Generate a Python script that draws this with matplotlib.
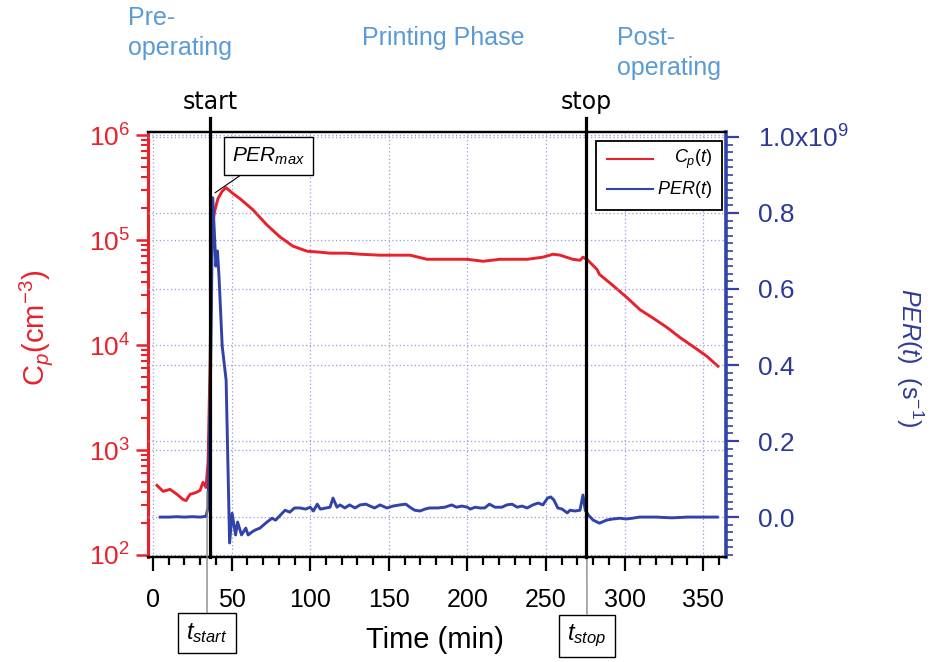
import matplotlib
matplotlib.use('Agg')
import matplotlib.pyplot as plt
from matplotlib.ticker import MultipleLocator, FixedLocator, FixedFormatter, LogLocator, NullFormatter
from matplotlib.patches import Rectangle
from matplotlib.lines import Line2D

plt.rcParams['font.family'] = ['Liberation Sans', 'DejaVu Sans']
plt.rcParams['mathtext.fontset'] = 'custom'
plt.rcParams['mathtext.rm'] = 'Liberation Sans'
plt.rcParams['mathtext.it'] = 'Liberation Sans:italic'
plt.rcParams['mathtext.bf'] = 'Liberation Sans:bold'

# ---------------- data ----------------
cp_time = [2.5, 6.4, 10.8, 15.3, 19.1, 21.0, 23.5, 27.4, 29.9, 31.8,
           33.7, 35.0, 36.3, 36.9, 37.5, 39.4, 41.3, 43.9, 46.4, 50.9,
           55.3, 63.6, 72.5, 80.8, 89.0, 98.0, 106.0, 112.6, 123.4, 131.7,
           144.4, 157.0, 163.5, 174.3, 182.6, 199.7, 210.0, 220.7, 238.0, 248.0,
           254.5, 259.0, 267.0, 271.6, 273.5, 276.0, 282.4, 284.0, 292.6, 301.5,
           309.8, 318.0, 327.0, 335.2, 343.5, 352.4, 359.4]
cp_values = [460, 404, 422, 378, 338, 330, 378, 394, 412, 492,
             440, 767, 7000, 30000, 133000, 194000, 248000, 290000, 316000, 277000,
             248000, 194000, 139000, 107000, 87500, 78300, 76700, 75000, 75000, 73300,
             71800, 71800, 71800, 65600, 65600, 65600, 62800, 65600, 65600, 68700,
             73300, 71800, 65600, 64200, 68700, 65600, 52600, 47100, 36900, 28300,
             21700, 18100, 14700, 11800, 9700, 7800, 6280]

per_time = [4.5, 10, 15, 20, 25, 30, 33.7, 35.0, 36.5, 38.0,
            40.0, 41.0, 42.0, 44.0, 46.5, 48.7, 50.3, 52.5, 53.8, 56.3,
            59.0, 60.5, 63.0, 65.0, 68.0, 72.5, 75.7, 78.0, 81.0, 84.0,
            87.0, 90.0, 93.5, 97.0, 100.0, 102.0, 104.5, 106.4, 112.6, 114.5,
            117.0, 119.0, 122.0, 125.0, 128.5, 131.7, 135.5, 138.0, 141.0, 144.4,
            148.8, 152.7, 157.0, 160.8, 163.4, 166.5, 169.8, 173.0, 176.0, 181.0,
            185.7, 190.0, 193.0, 196.5, 200.0, 201.7, 205.0, 208.0, 211.0, 214.0,
            217.5, 222.0, 225.0, 228.4, 231.6, 234.7, 238.0, 241.6, 245.0, 248.0,
            251.0, 253.0, 255.0, 257.5, 260.3, 263.5, 265.3, 268.5, 271.6, 273.5,
            275.0, 277.0, 280.0, 284.0, 288.5, 292.5, 297.0, 301.0, 305.0, 309.5,
            320.0, 330.0, 340.0, 350.0, 359.0]
# PER in units of 1e9 s^-1
per_values_e9 = [0.0, 0.0, 0.001, 0.0, 0.001, 0.0, 0.002, 0.026, 0.35, 0.84,
                 0.66, 0.70, 0.63, 0.45, 0.36, -0.068, 0.010, -0.047, -0.013, -0.047,
                 -0.029, -0.047, -0.039, -0.034, -0.029, -0.013, -0.003, -0.008, 0.005, 0.018,
                 0.013, 0.024, 0.024, 0.021, 0.026, 0.016, 0.034, 0.021, 0.026, 0.050,
                 0.026, 0.032, 0.024, 0.032, 0.024, 0.032, 0.034, 0.029, 0.024, 0.032,
                 0.024, 0.029, 0.032, 0.034, 0.026, 0.018, 0.016, 0.021, 0.024, 0.024,
                 0.026, 0.032, 0.026, 0.029, 0.026, 0.021, 0.026, 0.024, 0.024, 0.034,
                 0.026, 0.026, 0.032, 0.034, 0.026, 0.029, 0.024, 0.032, 0.037, 0.032,
                 0.050, 0.053, 0.045, 0.024, 0.021, 0.011, 0.018, 0.016, 0.018, 0.058,
                 0.018, 0.005, -0.008, -0.016, -0.008, -0.005, -0.003, -0.005, -0.003, 0.0,
                 0.0, -0.002, 0.0, 0.0, 0.0]

x_ticks = [0, 50, 100, 150, 200, 250, 300, 350]
x_tick_labels = ['0', '50', '100', '150', '200', '250', '300', '350']
left_ticks = [1e2, 1e3, 1e4, 1e5, 1e6]
left_tick_labels = ['$10^{2}$', '$10^{3}$', '$10^{4}$', '$10^{5}$', '$10^{6}$']
right_ticks = [0.0, 0.2, 0.4, 0.6, 0.8, 1.0]
right_tick_labels = ['0.0', '0.2', '0.4', '0.6', '0.8', '1.0x10$^{9}$']

t_start = 36.3
t_stop = 275.4
t_start_marker = 34.4
t_stop_marker = 276.0
per_max_point = (39.4, 0.853)

# ---------------- style ----------------
RED = '#E8212B'
BLUE_TXT = '#2E3A97'
BLUE_LINE = '#3143A8'
PHASE = '#5B9BD5'
GRID = '#9A9AD8'

W, H = 936, 662
fig = plt.figure(figsize=(W / 100, H / 100), dpi=100)


def fx(px):
    return px / W


def fy(py):
    return 1 - py / H


L, R, T, B = 148, 726, 132, 557
ax = fig.add_axes([fx(L), fy(B), fx(R) - fx(L), fy(T) - fy(B)])
ax2 = ax.twinx()

# curves
ax.plot(cp_time, cp_values, color=RED, lw=2.1, zorder=3)
ax2.plot(per_time, per_values_e9, color=BLUE_LINE, lw=2.1, zorder=3)

ax.set_yscale('log')
ax.set_xlim(-3.2, 364.5)
ax.set_ylim(95.7, 1.07e6)
ax2.set_ylim(-0.105, 1.013)

# ticks / grids
ax.xaxis.set_major_locator(FixedLocator(x_ticks))
ax.xaxis.set_major_formatter(FixedFormatter(x_tick_labels))
ax.xaxis.set_minor_locator(MultipleLocator(10))
ax.yaxis.set_major_locator(FixedLocator(left_ticks))
ax.yaxis.set_major_formatter(FixedFormatter(left_tick_labels))
ax.yaxis.set_minor_locator(LogLocator(base=10, subs=range(2, 10), numticks=20))
ax.yaxis.set_minor_formatter(NullFormatter())
ax2.yaxis.set_major_locator(FixedLocator(right_ticks))
ax2.yaxis.set_major_formatter(FixedFormatter(right_tick_labels))
ax2.yaxis.set_minor_locator(MultipleLocator(0.02))

gkw = dict(color=GRID, lw=0.9, linestyle=(0, (1, 2)))
ax.grid(True, which='major', axis='both', **gkw)
ax2.grid(True, which='major', axis='y', **gkw)
ax.set_axisbelow(True)

# spines
for a in (ax, ax2):
    a.spines['top'].set_color('black')
    a.spines['top'].set_linewidth(1.6)
    a.spines['bottom'].set_color('black')
    a.spines['bottom'].set_linewidth(1.6)
ax.spines['left'].set_color(RED)
ax.spines['left'].set_linewidth(2.2)
ax2.spines['left'].set_visible(False)
ax2.spines['right'].set_color(BLUE_LINE)
ax2.spines['right'].set_linewidth(2.6)
ax.spines['right'].set_visible(False)

ax.tick_params(axis='x', which='major', direction='out', length=10, width=1.6,
               color='black', labelsize=18, pad=12, labelcolor='black')
ax.tick_params(axis='x', which='minor', direction='out', length=6, width=1.6, color='black')
ax.tick_params(axis='y', which='major', direction='out', length=9, width=1.8,
               color=RED, labelsize=19, labelcolor=RED, pad=4)
ax.tick_params(axis='y', which='minor', direction='out', length=5, width=1.5, color=RED)
ax2.tick_params(axis='y', which='major', direction='out', length=9, width=1.6,
                color=BLUE_LINE, labelsize=19, labelcolor=BLUE_TXT, pad=14)
ax2.tick_params(axis='y', which='minor', direction='out', length=5, width=1.2, color=BLUE_LINE)

# axis labels
ax.set_xlabel('Time (min)', fontsize=21, color='black', va='center')
ax.xaxis.set_label_coords((435 - L) / (R - L), (B - 640) / (B - T))
ax.set_ylabel('C$_{p}$(cm$^{-3}$)', fontsize=21, color=RED, va='center')
ax.yaxis.set_label_coords((36 - L) / (R - L), (B - 328) / (B - T))
ax2.set_ylabel(r'$\mathit{PER(t)}$  (s$^{-1}$)', fontsize=18, color=BLUE_TXT,
               rotation=-90, va='center')
ax2.yaxis.set_label_coords((910 - L) / (R - L), (B - 358) / (B - T))

# start / stop lines
for tt, lab in ((t_start, 'start'), (t_stop, 'stop')):
    ax2.axvline(tt, ymin=0, ymax=(B - 118) / (B - T), color='black', lw=2.3,
                clip_on=False, zorder=6)
    ax2.text(tt, (B - 102) / (B - T), lab, transform=ax2.get_xaxis_transform(),
             ha='center', va='center', fontsize=17, family='DejaVu Sans', color='black')

# PER_max annotation
ax2.annotate(r'$PER_{max}$', xy=per_max_point, xytext=(73.5, 0.95),
             ha='center', va='center', fontsize=15, zorder=7,
             bbox=dict(boxstyle='square,pad=0.4', fc='white', ec='black', lw=1.0),
             arrowprops=dict(arrowstyle='-', color='black', lw=0.8, shrinkA=0, shrinkB=0))

# t_start / t_stop markers
ax2.annotate(r'$t_{start}$', xy=(t_start_marker, 0.066), xycoords='data',
             xytext=(fx(207), fy(633)), textcoords='figure fraction',
             ha='center', va='center', fontsize=17, annotation_clip=False,
             bbox=dict(boxstyle='square,pad=0.35', fc='white', ec='black', lw=1.0),
             arrowprops=dict(arrowstyle='-', color='#888888', lw=1.0, shrinkA=0, shrinkB=0))
ax2.annotate(r'$t_{stop}$', xy=(t_stop_marker, -0.105), xycoords='data',
             xytext=(fx(587), fy(636)), textcoords='figure fraction',
             ha='center', va='center', fontsize=17, annotation_clip=False,
             bbox=dict(boxstyle='square,pad=0.35', fc='white', ec='black', lw=1.0),
             arrowprops=dict(arrowstyle='-', color='#888888', lw=1.0, shrinkA=0, shrinkB=0))


# legend (drawn as a framed key)
def axf(px, py):
    return ((px - L) / (R - L), (B - py) / (B - T))


x0, y0 = axf(596, 210)
x1, y1 = axf(722, 141)
ax2.add_patch(Rectangle((x0, y0), x1 - x0, y1 - y0, transform=ax2.transAxes,
                        fc='white', ec='black', lw=1.3, zorder=8))
for py, col, lab in ((159, RED, r'$C_{p}(t)$'), (189, BLUE_LINE, r'$PER(t)$')):
    lx0, ly = axf(607, py)
    lx1, _ = axf(653, py)
    ax2.add_line(Line2D([lx0, lx1], [ly, ly], transform=ax2.transAxes,
                        color=col, lw=1.5, zorder=9))
    tx, _ = axf(712, py)
    ax2.text(tx, ly, lab, transform=ax2.transAxes, ha='right', va='center',
             fontsize=13, zorder=9)

# phase labels
fig.text(fx(128), fy(6), 'Pre-\noperating', ha='left', va='top', fontsize=18,
         color=PHASE, linespacing=1.3)
fig.text(fx(362), fy(38), 'Printing Phase', ha='left', va='center', fontsize=18,
         color=PHASE)
fig.text(fx(617), fy(26), 'Post-\noperating', ha='left', va='top', fontsize=18,
         color=PHASE, linespacing=1.3)

fig.savefig('out.png', dpi=100)
